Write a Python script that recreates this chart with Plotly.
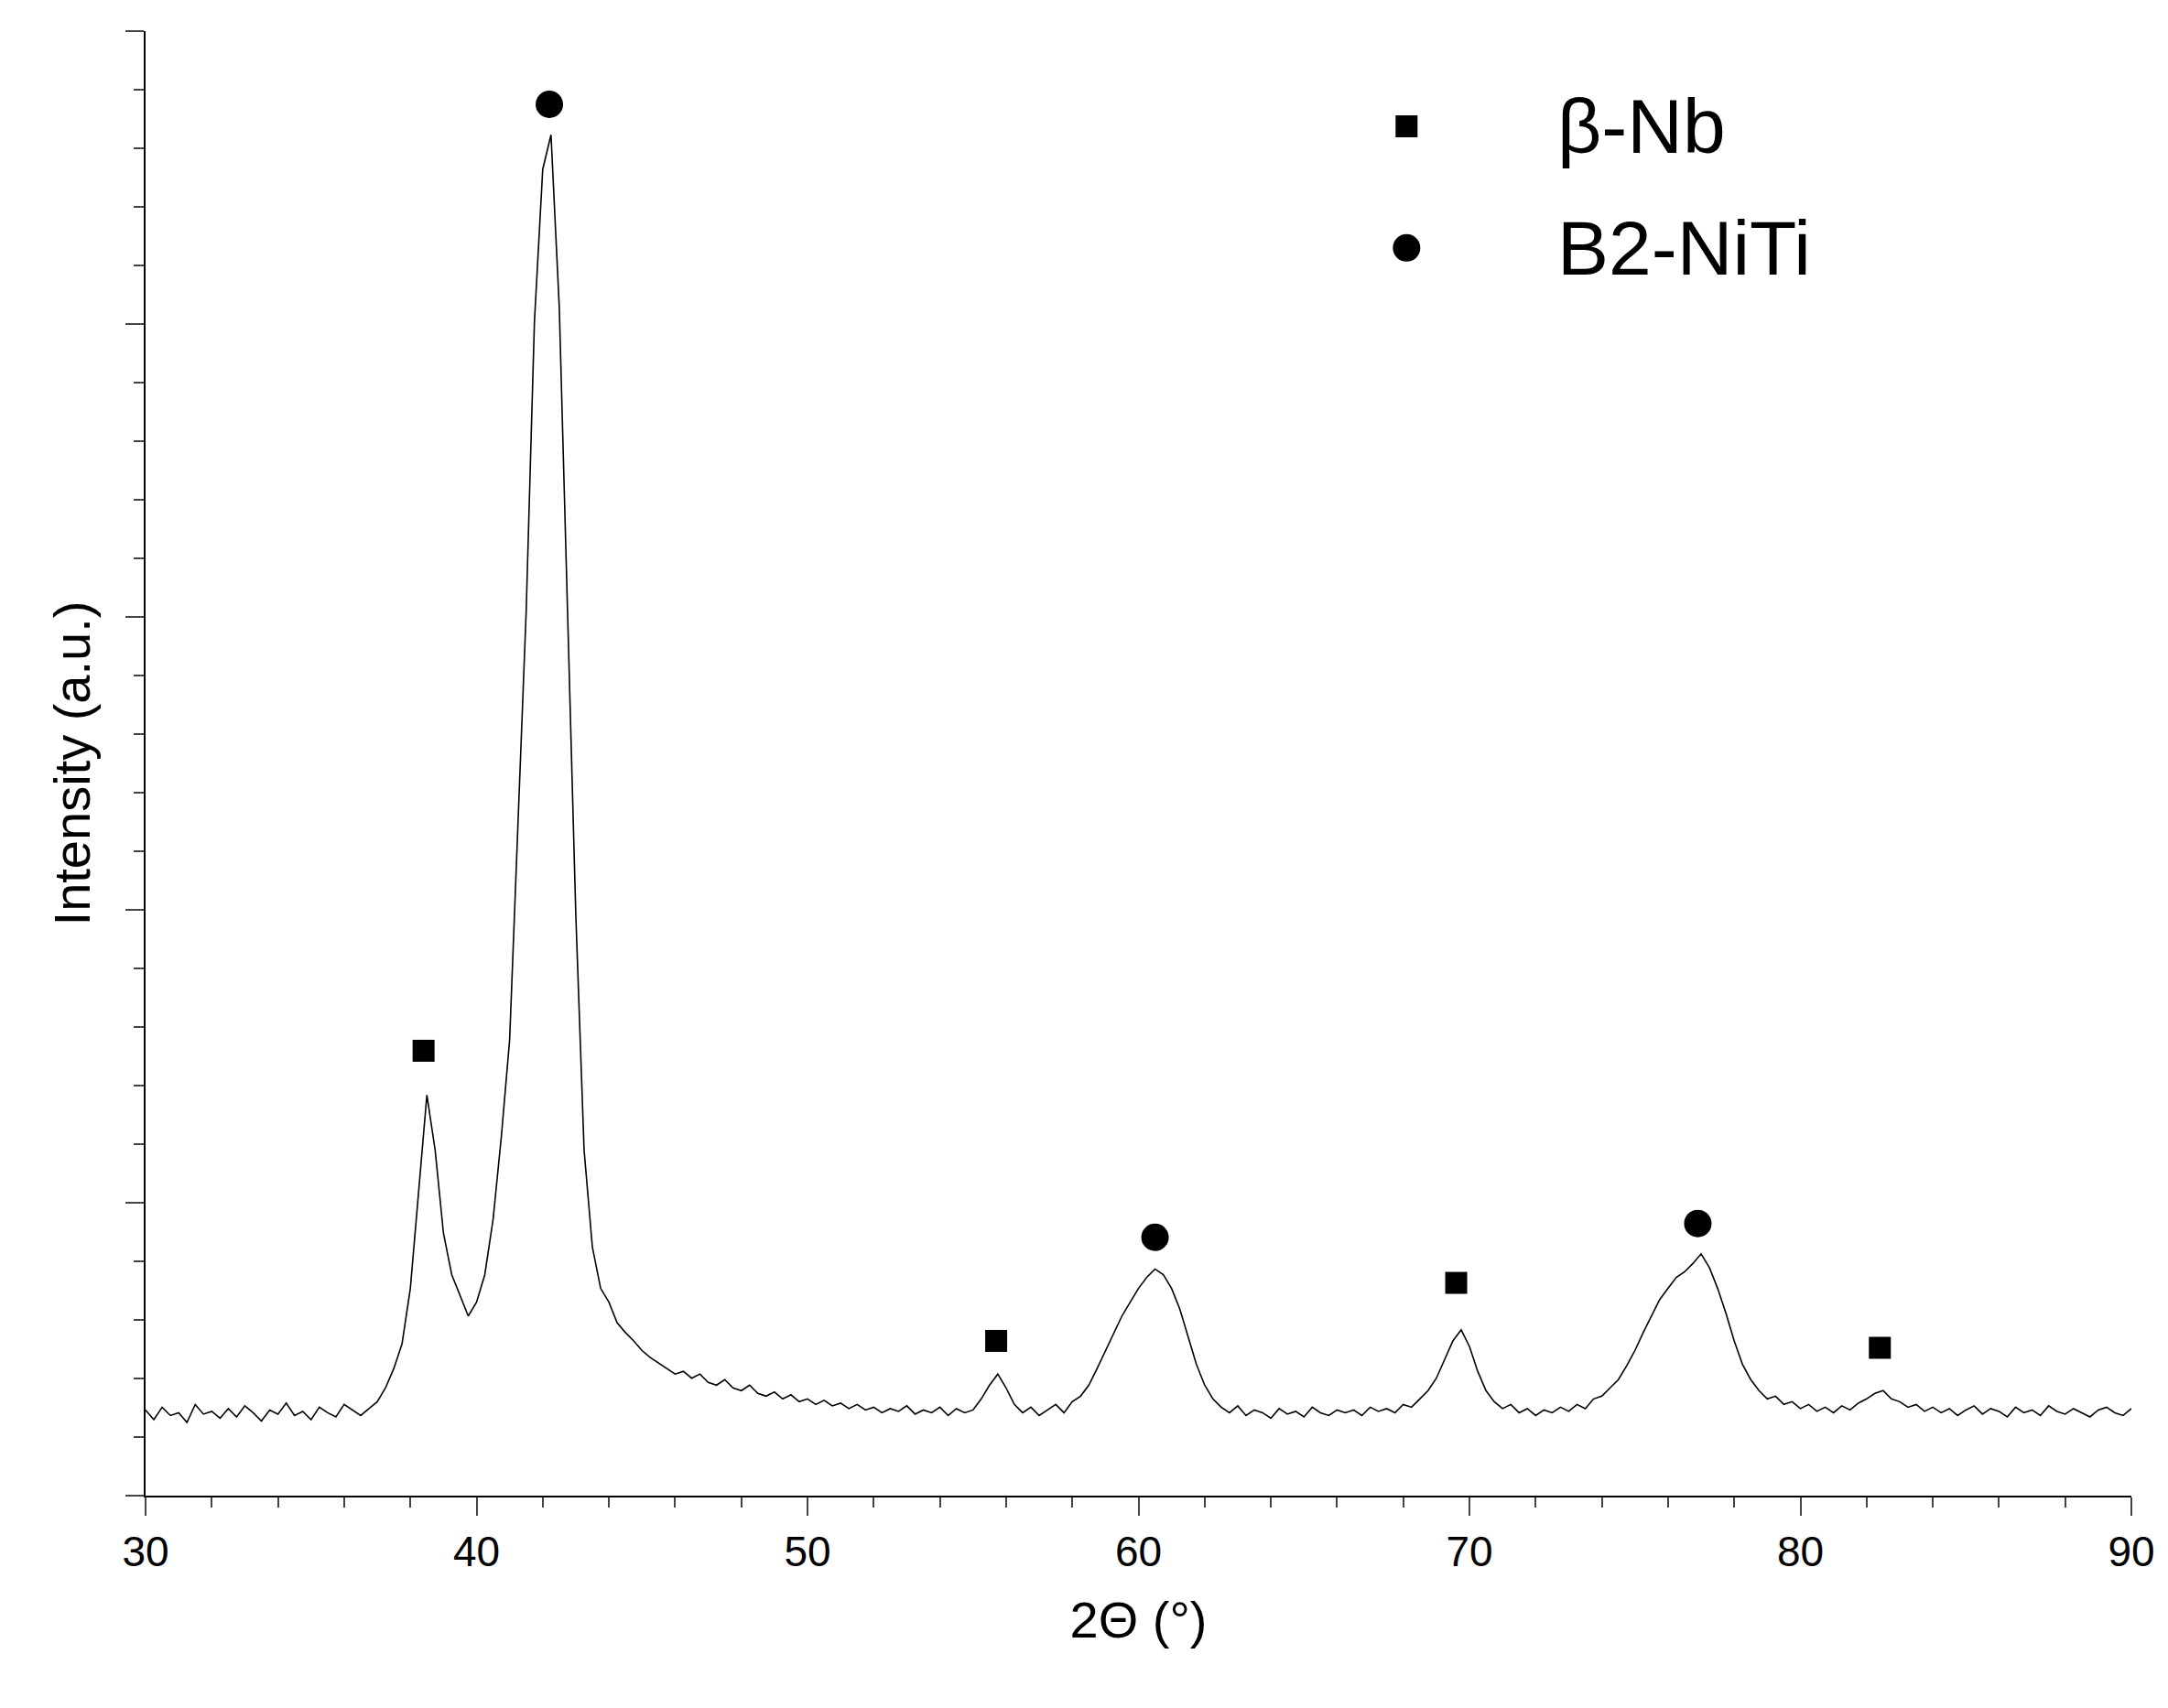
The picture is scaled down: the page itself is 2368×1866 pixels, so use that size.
import plotly.graph_objects as go

# XRD pattern, in segments (start angle, step 0.25°)
seg_a_start = 30.0
seg_a = [62,55,64,58,60,53,66,59,61,56,63,57,65,60,54,62,59,67,58,61,55,64,60,57,66,62,58,63]
seg_b_start = 37.0
seg_b = [68,78,92,110,150,220,290,250,190,160,145,130,140,160,200,260,330,480,640,850,960,985,
         860,640,420,250,180,150,140,125,118,112,105,100,96,92,88]
seg_c_start = 46.25
seg_c = [90,85,88,82,80,84,78,76,80,74,72,75,70,73,68,70,66,69,65,67,63,66,62,64,60,63,61,65,
         59,62,60,64,58,63,60]
seg_d_start = 55.0
seg_d = [62,70,80,88,78,66,60,64,58,62,66,60,68,72,80,92,105,118,130,140,150,158,164,160,150,
         135,115,95,80,70,64,60,65,58,62,60,56,63,59,61,57,64,60,58,62]
seg_e_start = 66.25
seg_e = [60,62,58,64,61,63,60,66,64,70,76,85,98,112,120,108,90,76,68,63,66,60,63,58,62,60,64,
         61,66,63,70,72,78,84,94,105,118,130,142,150,158,162,168,175,165,150,132,112,95,84,76,
         70,72,66,68,63,66,61,64,60,65,62,67,70,74,76,70,68,64,66,61,64,
         60,63,58,62,65,59,63,61,57,64,60,62,58,65,61,59,63,60,57,62,64,60,58,63]

nb_angles = [38.4, 55.7, 69.6, 82.4]
nb_heights = [322, 112, 154, 107]
niti_angles = [42.2, 60.5, 76.9]
niti_heights = [1007, 187, 197]

legend_labels = ["β-Nb", "B2-NiTi"]

xs, ys = [], []
for start, vals in [(seg_a_start, seg_a), (seg_b_start, seg_b), (seg_c_start, seg_c),
                    (seg_d_start, seg_d), (seg_e_start, seg_e)]:
    for i, v in enumerate(vals):
        x = start + 0.25 * i
        if x <= 90:
            xs.append(x); ys.append(v)

font = "Liberation Sans, Arial, sans-serif"
fig = go.Figure()
fig.add_trace(go.Scatter(x=xs, y=ys, mode="lines", line=dict(color="black", width=1.6),
                         showlegend=False))
fig.add_trace(go.Scatter(x=nb_angles, y=nb_heights, mode="markers", showlegend=False,
                         marker=dict(symbol="square", size=24, color="black")))
fig.add_trace(go.Scatter(x=niti_angles, y=niti_heights, mode="markers", showlegend=False,
                         marker=dict(symbol="circle", size=30, color="black")))

# hand-made legend (plotly caps legend marker size)
fig.add_trace(go.Scatter(x=[0.635], y=[0.935], xaxis="x2", yaxis="y2", mode="markers",
                         showlegend=False, hoverinfo="skip",
                         marker=dict(symbol="square", size=24, color="black")))
fig.add_trace(go.Scatter(x=[0.635], y=[0.852], xaxis="x2", yaxis="y2", mode="markers",
                         showlegend=False, hoverinfo="skip",
                         marker=dict(symbol="circle", size=30, color="black")))
for lab, yy in zip(legend_labels, [0.935, 0.852]):
    fig.add_annotation(x=0.71, y=yy, xref="paper", yref="paper", text=lab, showarrow=False,
                       xanchor="left", yanchor="middle", font=dict(size=84, color="black"))

fig.update_layout(
    width=2368, height=1866, plot_bgcolor="white", paper_bgcolor="white",
    margin=dict(l=151, r=48, t=26, b=240),
    font=dict(family=font, color="black"),
    showlegend=False,
    xaxis2=dict(range=[0, 1], overlaying="x", visible=False),
    yaxis2=dict(range=[0, 1], overlaying="y", visible=False),
    xaxis=dict(range=[30, 90], dtick=10, showgrid=False, zeroline=False,
               showline=True, linecolor="black", linewidth=2,
               ticks="outside", ticklen=20, tickwidth=2, tickfont=dict(size=46),
               minor=dict(dtick=2, ticks="outside", ticklen=11, tickwidth=2),
               title=dict(text="2Θ (°)", font=dict(size=56), standoff=30)),
    yaxis=dict(range=[0, 1060], dtick=212, showgrid=False, zeroline=False,
               showline=True, linecolor="black", linewidth=2, showticklabels=False,
               ticks="outside", ticklen=20, tickwidth=2,
               minor=dict(dtick=42.4, ticks="outside", ticklen=11, tickwidth=2),
               title=dict(text="Intensity (a.u.)", font=dict(size=56), standoff=20)),
)
fig.write_html("out.html")
